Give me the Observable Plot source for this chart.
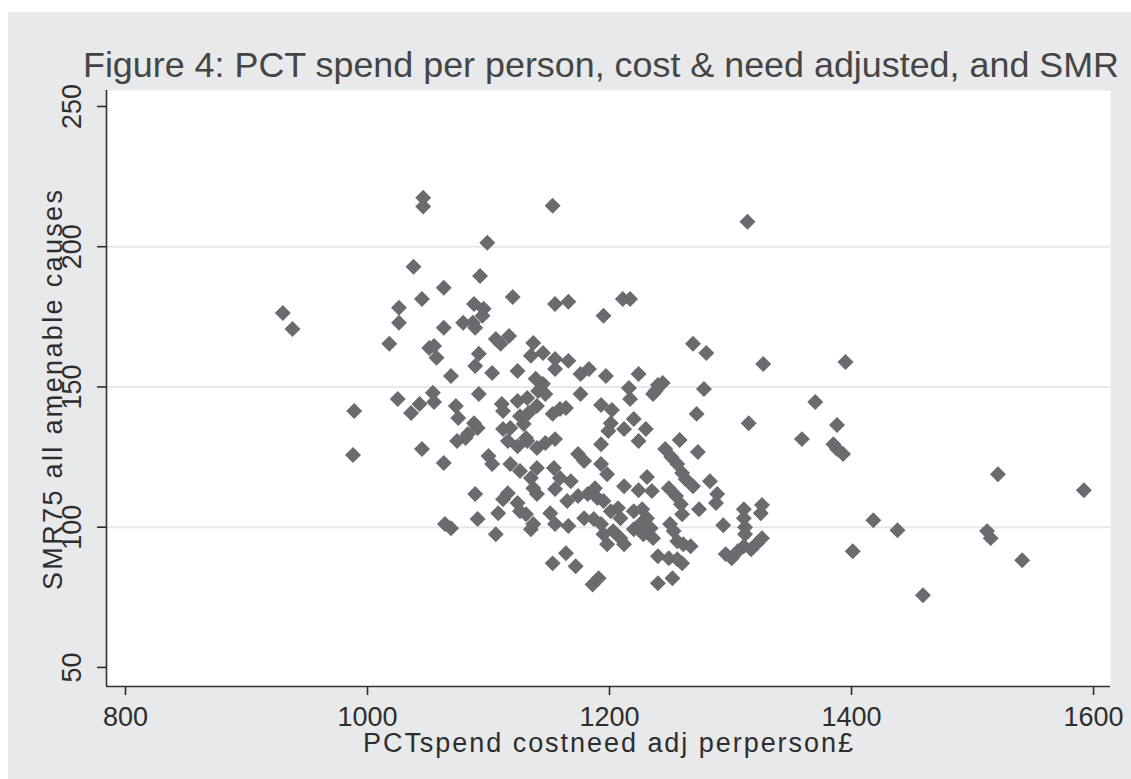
<!DOCTYPE html>
<html><head><meta charset="utf-8">
<script src="https://cdn.jsdelivr.net/npm/d3@7"></script>
<script src="https://cdn.jsdelivr.net/npm/@observablehq/plot@0.6"></script>
<style>
html,body{margin:0;padding:0;background:#fff;}
#wrap{position:relative;width:1131px;height:779px;overflow:hidden;}
#bg{position:absolute;left:8px;top:12px;right:0;bottom:0;background:#e8e9eb;}
#chart{position:absolute;left:0;top:0;}
</style></head><body>
<div id="wrap"><div id="bg"></div><div id="chart"></div></div>
<script>
// Tick values
const xTicks = [800, 1000, 1200, 1400, 1600];
const yTicks = [50, 100, 150, 200, 250];
const gridValues = [100, 150, 200];

// PCT spend per person (cost & need adjusted, £)
const spend = [930,938,989,988,1018,1026,1026,1038,1046,1046,1099,1093,1063,1045,1088,1096,1095,1079,1087,1089,
1063,1051,1055,1057,1106,1110,1117,1092,1089,1069,1103,1025,1036,1043,1054,1055,1073,1075,1092,1088,
1091,1111,1112,1120,1153,1314,1155,1166,1211,1217,1195,1137,1135,1145,1155,1166,1155,1124,1139,1145,
1141,1147,1176,1183,1197,1176,1224,1216,1217,1238,1240,1244,1236,1269,1280,1327,1278,1272,1315,1124,
1132,1140,1133,1083,1112,1118,1126,1129,1131,1153,1159,1164,1193,1202,1201,1199,1212,1220,1230,1155,
1258,1273,1224,1246,1251,1256,1260,1263,1283,1269,1289,1288,1274,1231,1224,1235,1249,1255,1259,1260,
1311,1311,1326,1325,1294,1312,1312,1296,1301,1306,1311,1317,1322,1326,1370,1388,1359,1385,1388,1393,
1395,1521,1592,1418,1438,1512,1515,1401,1541,1459,1074,1081,1063,1045,1100,1103,1116,1124,1132,1140,
1147,1118,1126,1135,1140,1137,1140,1154,1159,1168,1155,1174,1179,1193,1198,1193,1089,1116,1112,1124,
1126,1131,1108,1091,1106,1064,1069,1137,1135,1151,1155,1166,1153,1164,1172,1186,1191,1165,1174,1182,
1188,1190,1179,1187,1193,1195,1195,1201,1207,1209,1220,1227,1231,1226,1234,1220,1228,1236,1209,1212,
1198,1250,1253,1256,1261,1267,1240,1249,1256,1260,1240,1252,1212,1203];

// SMR75, all amenable causes
const smr = [176.4,170.7,141.4,125.7,165.4,178.2,172.9,192.9,217.5,214.3,201.4,189.6,185.4,181.4,179.6,177.9,175.4,172.9,172.9,171.1,
171.1,163.9,164.6,160.4,167.1,165.4,168.2,161.8,157.5,153.9,155,145.7,140.7,143.9,147.9,144.6,143.2,138.9,147.5,137.1,
135.4,143.9,141.4,182.1,214.6,208.9,179.6,180.4,181.4,181.4,175.4,165.7,161.1,162.1,160,159.3,156.4,155.7,152.9,151.1,
148.6,147.5,154.6,156.4,153.9,147.5,154.6,149.6,145.7,148.6,150.7,151.4,147.5,165.4,162.1,158.2,149.3,140.4,137.1,145,
146.1,143.2,140.7,133.2,135,135.4,139.6,136.8,131.8,140.4,142.1,142.5,143.6,141.8,137.1,134.3,135,138.6,135,131.4,
131.1,126.8,130.7,127.9,125,122.5,119.3,117.1,116.4,114.6,111.8,108.6,106.4,117.9,113.2,112.9,113.9,111.1,108.2,104.6,
106.4,103.2,107.9,105,100.7,100,97.5,90.4,88.9,91.4,93.2,92.1,94.3,96.1,144.6,136.4,131.4,129.6,127.9,126.1,
158.9,118.9,113.2,102.5,98.9,98.6,96.1,91.4,88.2,75.7,130.7,131.8,122.9,127.9,125.4,122.5,130.7,128.9,130.7,128.2,
130,122.5,120,117.5,121.1,113.9,111.8,121.1,117.5,116.4,113.6,126.1,123.6,122.5,118.9,129.6,111.8,112.1,110,108.6,
105.7,104.6,105,102.9,97.5,101.1,99.6,101.1,99.3,105,101.1,100.4,87.1,90.7,86.1,79.6,81.8,109.3,111.1,111.8,
113.9,110.4,103.2,102.9,101.1,97.5,109.3,105.7,106.8,103.2,105.7,106.4,103.2,101.4,99.6,99.3,97.5,96.1,96.1,93.9,
93.9,101.1,98.6,95,93.9,93.2,89.6,88.9,88.6,87.1,80,81.8,114.6,98.6];

const titleText = "Figure 4: PCT spend per person, cost & need adjusted, and SMR";
const xLabel = "PCTspend costneed adj perperson£";
const yLabel = "SMR75 all amenable causes";

const points = spend.map((x, i) => ({spend: x, smr: smr[i]}));
const xDomain = [784.3, 1614];
const yDomain = [43.2, 255.7];
const font = '"Liberation Sans", Arial, sans-serif';

const plot = Plot.plot({
  width: 1131, height: 779,
  marginLeft: 106, marginRight: 21, marginTop: 90, marginBottom: 93,
  style: {background: "transparent", fontFamily: font, fontSize: "27px", color: "#2e2e2e", overflow: "visible"},
  x: {domain: xDomain, axis: null},
  y: {domain: yDomain, axis: null},
  marks: [
    Plot.frame({fill: "white", stroke: null}),
    Plot.ruleY(gridValues, {stroke: "#e7e8e9", strokeWidth: 2}),
    Plot.dot(points, {x: "spend", y: "smr", symbol: "diamond2", r: 7.2, fill: "#696b6e"}),
    Plot.ruleX([xDomain[0]], {stroke: "#333", strokeWidth: 1.6}),
    Plot.ruleY([yDomain[0]], {stroke: "#333", strokeWidth: 1.6}),
    Plot.axisX(xTicks, {anchor: "bottom", tickSize: 9, tickPadding: 11, strokeWidth: 1.6, label: null, tickFormat: d => String(d)}),
    Plot.axisY(yTicks, {anchor: "left", tickSize: 9, tickPadding: 17, tickRotate: -90, strokeWidth: 1.6, label: null, tickFormat: d => String(d)})
  ]
});
document.getElementById("chart").appendChild(plot);

const svg = d3.select(plot);
svg.append("text")
  .attr("x", 83).attr("y", 77)
  .attr("text-anchor", "start")
  .attr("font-size", 35).attr("fill", "#454545")
  .attr("textLength", 1036).attr("lengthAdjust", "spacingAndGlyphs")
  .text(titleText);
svg.append("text")
  .attr("x", 608).attr("y", 752)
  .attr("text-anchor", "middle")
  .attr("font-size", 27).attr("fill", "#2e2e2e")
  .attr("textLength", 490).attr("lengthAdjust", "spacing")
  .text(xLabel);
svg.append("text")
  .attr("transform", "translate(62,390) rotate(-90)")
  .attr("text-anchor", "middle")
  .attr("font-size", 27).attr("fill", "#2e2e2e")
  .attr("textLength", 400).attr("lengthAdjust", "spacing")
  .text(yLabel);
</script>
</body></html>
